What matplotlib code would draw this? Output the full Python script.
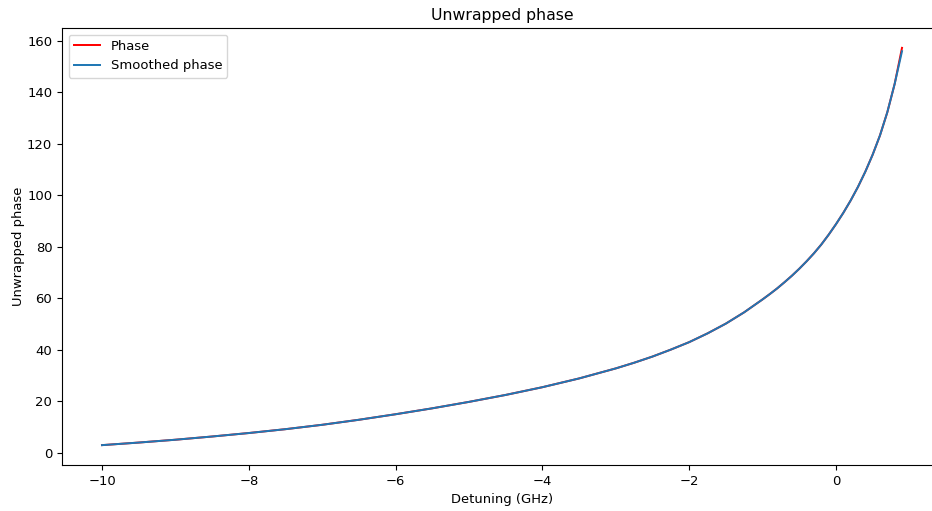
import numpy as np
import matplotlib
matplotlib.use('Agg')
import matplotlib.pyplot as plt

plt.rcParams.update({
    'font.size': 9.45,
    'axes.titlesize': 11.3,
    'lines.linewidth': 1.42,
})

# detuning grid (GHz): coarse on the flat part, finer where the phase climbs
detuning = [-10.0, -9.5, -9.0, -8.5, -8.0, -7.5, -7.0, -6.5, -6.0, -5.5,
            -5.0, -4.5, -4.0, -3.5, -3.0, -2.75, -2.5, -2.25, -2.0, -1.75,
            -1.5, -1.25, -1.0,
            -0.9, -0.8, -0.7, -0.6, -0.5, -0.4, -0.3, -0.2, -0.1, 0.0,
            0.1, 0.2, 0.3, 0.4, 0.5, 0.6, 0.7, 0.8, 0.9]
phase = [3.0, 4.0, 5.1, 6.35, 7.7, 9.2, 10.9, 12.85, 15.0, 17.3,
         19.8, 22.5, 25.5, 28.9, 32.8, 35.0, 37.4, 40.1, 43.0, 46.4,
         50.2, 54.6, 59.6,
         61.7, 63.9, 66.3, 68.8, 71.5, 74.4, 77.5, 80.9, 84.7, 88.8,
         93.2, 98.0, 103.3, 109.2, 115.8, 123.3, 132.3, 143.3, 157.3]
smoothed = [3.0, 4.0, 5.1, 6.35, 7.7, 9.2, 10.9, 12.85, 15.0, 17.3,
            19.8, 22.5, 25.5, 28.9, 32.8, 35.0, 37.4, 40.1, 43.0, 46.4,
            50.2, 54.6, 59.6,
            61.7, 63.9, 66.3, 68.8, 71.5, 74.4, 77.5, 80.9, 84.7, 88.8,
            93.2, 98.0, 103.3, 109.2, 115.8, 123.3, 132.3, 143.3, 156.0]

fig = plt.figure(figsize=(9.32, 5.11), dpi=100)
ax = fig.add_axes([62 / 932, 46 / 511, 880 / 932, 437 / 511])

ax.plot(detuning, phase, color='red', label='Phase')
ax.plot(detuning, smoothed, color='#1f77b4', label='Smoothed phase')

ax.set_title('Unwrapped phase')
ax.set_xlabel('Detuning (GHz)')
ax.set_ylabel('Unwrapped phase', labelpad=1.5)
ax.legend(loc='upper left')

fig.savefig('out.png', dpi=100)
